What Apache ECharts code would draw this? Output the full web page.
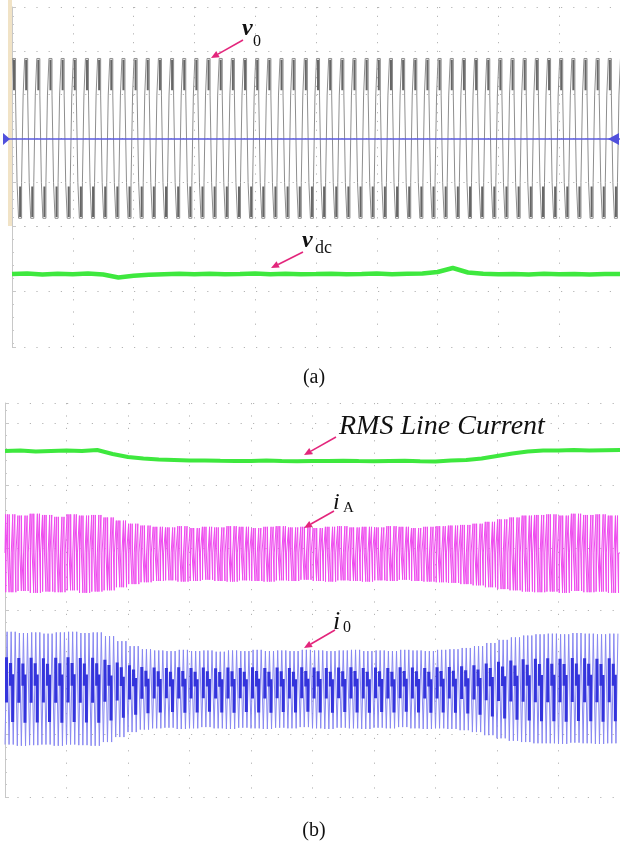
<!DOCTYPE html>
<html>
<head>
<meta charset="utf-8">
<script src="https://cdn.jsdelivr.net/npm/echarts@6/dist/echarts.min.js"></script>
<style>
html, body { margin: 0; padding: 0; background: #fff; }
#chart { width: 620px; height: 848px; }
</style>
</head>
<body>
<div id="chart"></div>
<script>
// all readings in scope divisions: x 0..10, y measured up from the bottom of each screen
var cycles = 50;
var period = 10 / cycles;

// (a) output voltage v0, one period as [duration, level]
var v0Mid = 3.41;
var v0Phase = -0.017;
var v0Steps = [[0.125, 0.72], [0.25, 1.32], [0.125, 0.72],
               [0.125, -0.71], [0.25, -1.30], [0.125, -0.71]];
// the bright tips of each half wave: [fraction, from, to]
var v0Tips = [[0.25, 0.80, 1.30], [0.75, -0.78, -1.28]];

// (a) dc link voltage, one reading every 0.25 div
var vdc = [1.197, 1.205, 1.189, 1.200, 1.193, 1.203, 1.189, 1.139, 1.167, 1.184,
           1.192, 1.200, 1.193, 1.202, 1.192, 1.197, 1.203, 1.192, 1.200, 1.193,
           1.197, 1.202, 1.193, 1.197, 1.203, 1.193, 1.200, 1.205, 1.230, 1.295,
           1.221, 1.200, 1.192, 1.197, 1.190, 1.200, 1.193, 1.197, 1.190, 1.198, 1.195];

// (b) RMS line current, one reading every 0.25 div
var rmsCur = [5.554, 5.562, 5.546, 5.554, 5.562, 5.554, 5.570, 5.506, 5.457, 5.433,
              5.417, 5.409, 5.401, 5.401, 5.396, 5.393, 5.393, 5.401, 5.393, 5.390,
              5.393, 5.393, 5.398, 5.393, 5.390, 5.393, 5.396, 5.390, 5.385, 5.401,
              5.409, 5.433, 5.474, 5.514, 5.546, 5.562, 5.562, 5.570, 5.562, 5.567, 5.570];

// (b) line current iA, peak above / below its zero for each period
var iaMid = 3.917;
var iaTop = [0.62, 0.60, 0.63, 0.61, 0.58, 0.62, 0.60, 0.61,
             0.57, 0.52, 0.47, 0.44,
             0.42, 0.41, 0.43, 0.40, 0.42, 0.41, 0.43, 0.42, 0.40, 0.42, 0.43, 0.41, 0.42,
             0.40, 0.42, 0.43, 0.41, 0.42, 0.41, 0.43, 0.42, 0.40, 0.42, 0.43, 0.44, 0.45, 0.47,
             0.50, 0.54, 0.57, 0.60, 0.61,
             0.62, 0.60, 0.63, 0.61, 0.62, 0.60];
var iaBot = [0.63, 0.61, 0.64, 0.62, 0.63, 0.60, 0.64, 0.62,
             0.60, 0.55, 0.50, 0.47,
             0.45, 0.44, 0.46, 0.45, 0.43, 0.45, 0.46, 0.44, 0.45, 0.46, 0.44, 0.45, 0.43,
             0.45, 0.46, 0.44, 0.45, 0.46, 0.44, 0.45, 0.43, 0.45, 0.46, 0.47, 0.48, 0.50, 0.52,
             0.55, 0.58, 0.60, 0.62, 0.63,
             0.62, 0.64, 0.61, 0.63, 0.62, 0.64];
// switching strokes inside one period: [fraction, level]
var iaPattern = [[0.00, 0], [0.05, 0], [0.05, 1], [0.06, -1], [0.08, 0],
                 [0.20, 0], [0.20, 1], [0.21, 0],
                 [0.33, 0], [0.33, -1], [0.34, 1], [0.36, 0],
                 [0.50, 0], [0.50, -1], [0.51, 0],
                 [0.63, 0], [0.63, 1], [0.64, -1], [0.66, 0],
                 [0.80, 0], [0.80, 1], [0.81, 0],
                 [0.88, 0], [0.88, -1], [0.89, 0], [1.00, 0]];

// (b) output current i0
var i0Mid = 1.742;
var i0Top = [0.91, 0.89, 0.90, 0.88, 0.90, 0.91, 0.89, 0.90,
             0.84, 0.76, 0.68, 0.63,
             0.61, 0.60, 0.62, 0.60, 0.61, 0.59, 0.61, 0.60, 0.62, 0.60, 0.61, 0.60,
             0.62, 0.61, 0.60, 0.61, 0.62, 0.60, 0.61, 0.60, 0.62, 0.61, 0.60, 0.62,
             0.63, 0.65, 0.68, 0.73, 0.78, 0.82, 0.85, 0.87,
             0.88, 0.87, 0.89, 0.88, 0.87, 0.88];
var i0Bot = [0.90, 0.92, 0.91, 0.90, 0.92, 0.90, 0.91, 0.92,
             0.86, 0.78, 0.70, 0.66,
             0.64, 0.63, 0.65, 0.64, 0.62, 0.64, 0.65, 0.63, 0.64, 0.65, 0.63, 0.64,
             0.62, 0.64, 0.65, 0.63, 0.64, 0.65, 0.63, 0.64, 0.62, 0.64, 0.65, 0.64,
             0.65, 0.67, 0.70, 0.75, 0.80, 0.84, 0.86, 0.88,
             0.88, 0.89, 0.87, 0.88, 0.89, 0.88];
var i0Light = [[0.00, -1], [0.17, 1], [0.33, -1], [0.50, 1], [0.67, -1], [0.83, 1]];
var i0Dark = [[0.12, 0.55], [0.12, -0.25], null, [0.45, 0.45], [0.45, 0.05], null,
              [0.62, 0.25], [0.62, -0.6], null];

var pink = '#e3267c';
var serif = '"Liberation Serif", "Times New Roman", serif';

function buildV0() {
    var out = [];
    for (var c = -1; c <= cycles; c++) {
        var t = v0Phase + c * period;
        v0Steps.forEach(function (s) {
            out.push([t, v0Mid + s[1]]);
            t += s[0] * period;
            out.push([t, v0Mid + s[1]]);
        });
    }
    return out;
}

function buildTips() {
    var out = [];
    for (var c = -1; c <= cycles; c++) {
        v0Tips.forEach(function (s) {
            var x = v0Phase + (c + s[0]) * period;
            out.push([x, v0Mid + s[1]], [x, v0Mid + s[2]], [x, '-']);
        });
    }
    return out;
}

function buildSwitching(mid, top, bot, pattern) {
    var out = [];
    for (var c = 0; c < cycles; c++) {
        var x0 = c * period;
        pattern.forEach(function (p) {
            if (p === null) {
                out.push([x0, '-']);
                return;
            }
            var y = p[1] > 0 ? mid + p[1] * top[c] : mid + p[1] * bot[c];
            out.push([x0 + p[0] * period, y]);
        });
    }
    return out;
}

function arrow(x1, y1, x2, y2) {
    var dx = x2 - x1, dy = y2 - y1;
    var len = Math.sqrt(dx * dx + dy * dy);
    var ux = dx / len, uy = dy / len;
    var bx = x2 - ux * 8, by = y2 - uy * 8;
    return [
        { type: 'line', z: 100, shape: { x1: x1, y1: y1, x2: bx, y2: by },
          style: { stroke: pink, lineWidth: 1.6 } },
        { type: 'polygon', z: 100,
          shape: { points: [[x2, y2], [bx - uy * 3.5, by + ux * 3.5], [bx + uy * 3.5, by - ux * 3.5]] },
          style: { fill: pink } }
    ];
}

function label(x, y, text, font, align) {
    return { type: 'text', z: 100, x: x, y: y,
             style: { text: text, font: font, fill: '#111', align: align || 'left', verticalAlign: 'middle' } };
}

function dots(gap, edges) {
    return { show: true, lineStyle: { color: '#b4b4b4', width: 1, type: [1.2, gap] },
             showMinLine: edges !== false, showMaxLine: edges !== false };
}

// screen overlays: only the dotted graticule
function gridX(idx, gap) {
    return { type: 'value', gridIndex: idx, min: 0, max: 10, interval: 1,
             axisLine: { show: false }, axisTick: { show: false }, axisLabel: { show: false },
             splitLine: dots(gap, false) };
}
function gridY(idx, max, gap, inverse) {
    return { type: 'value', gridIndex: idx, min: 0, max: max, interval: 1, inverse: !!inverse,
             axisLine: { show: true, lineStyle: { color: '#c8c8c8' } },
             axisTick: { show: true, inside: true, length: 4, lineStyle: { color: '#c8c8c8' } },
             minorTick: { show: true, splitNumber: 5, length: 2, lineStyle: { color: '#c8c8c8' } },
             axisLabel: { show: false }, splitLine: dots(gap) };
}

var chart = echarts.init(document.getElementById('chart'));

var option = {
    animation: false,
    backgroundColor: '#fff',
    grid: [
        { left: 12, top: 0, width: 610, height: 347 },
        { left: 5, top: 403, width: 620, height: 394 },
        { left: 12, top: 7, width: 610, height: 219 },
        { left: 12, top: 226, width: 610, height: 121 },
        { left: 5, top: 403, width: 620, height: 394 }
    ],
    xAxis: [
        { type: 'value', gridIndex: 0, min: 0, max: 10, show: false },
        { type: 'value', gridIndex: 1, min: 0, max: 10, show: false },
        gridX(2, 7.56),
        gridX(3, 11),
        gridX(4, 11.2)
    ],
    yAxis: [
        { type: 'value', gridIndex: 0, min: 0, max: 347 / 61, show: false },
        { type: 'value', gridIndex: 1, min: 0, max: 394 / 62.3, show: false },
        gridY(2, 5, 11),
        gridY(3, 121 / 65, 11, true),
        gridY(4, 394 / 62.3, 11.2)
    ],
    series: [
        {
            name: 'v0', type: 'line', xAxisIndex: 0, yAxisIndex: 0,
            data: buildV0(), showSymbol: false, silent: true,
            lineStyle: { color: '#8e8e8e', width: 1 },
            markLine: {
                silent: true, symbol: 'none', label: { show: false },
                lineStyle: { color: '#5a5ae0', width: 1.5, type: 'solid' },
                data: [{ yAxis: v0Mid }]
            }
        },
        {
            name: 'v0 tips', type: 'line', xAxisIndex: 0, yAxisIndex: 0,
            data: buildTips(), showSymbol: false, silent: true, connectNulls: false,
            lineStyle: { color: '#666', width: 2 }
        },
        {
            name: 'vdc', type: 'line', xAxisIndex: 0, yAxisIndex: 0,
            data: vdc.map(function (v, i) { return [i * 0.25, v]; }),
            showSymbol: false, silent: true,
            lineStyle: { color: '#3ee83e', width: 4.5 }
        },
        {
            name: 'RMS Line Current', type: 'line', xAxisIndex: 1, yAxisIndex: 1,
            data: rmsCur.map(function (v, i) { return [i * 0.25, v]; }),
            showSymbol: false, silent: true,
            lineStyle: { color: '#3ee83e', width: 4 }
        },
        {
            name: 'iA', type: 'line', xAxisIndex: 1, yAxisIndex: 1,
            data: buildSwitching(iaMid, iaTop, iaBot, iaPattern),
            showSymbol: false, silent: true,
            lineStyle: { color: '#ee4cee', width: 1 }
        },
        {
            name: 'i0', type: 'line', xAxisIndex: 1, yAxisIndex: 1,
            data: buildSwitching(i0Mid, i0Top, i0Bot, i0Light),
            showSymbol: false, silent: true,
            lineStyle: { color: '#8888f2', width: 1 }
        },
        {
            name: 'i0 dense', type: 'line', xAxisIndex: 1, yAxisIndex: 1,
            data: buildSwitching(i0Mid, i0Top, i0Bot, i0Dark),
            showSymbol: false, silent: true, connectNulls: false,
            lineStyle: { color: '#3434dc', width: 3 }
        }
    ],
    graphic: [].concat(
        [
            { type: 'rect', z: 50, shape: { x: 8, y: 0, width: 4, height: 226 }, style: { fill: '#f1e3c6' } },
            { type: 'line', z: 50, shape: { x1: 8, y1: 139, x2: 12, y2: 139 }, style: { stroke: '#5a5ae0', lineWidth: 1.5 } },
            { type: 'polygon', z: 100, shape: { points: [[3, 133], [10, 139], [3, 145]] }, style: { fill: '#5050dc' } },
            { type: 'polygon', z: 100, shape: { points: [[619, 133], [608, 139], [619, 145]] }, style: { fill: '#5050dc' } },
            label(242, 29, 'v', 'italic bold 24px ' + serif),
            label(253, 42, '0', '16px ' + serif),
            label(302, 241, 'v', 'italic bold 24px ' + serif),
            label(315, 248, 'dc', '18px ' + serif),
            label(339, 427, 'RMS Line Current', 'italic 28px ' + serif),
            label(333, 503, 'i', 'italic 24px ' + serif),
            label(343, 508, 'A', '15px ' + serif),
            label(333, 622, 'i', 'italic 26px ' + serif),
            label(343, 628, '0', '16px ' + serif),
            label(314, 378, '(a)', '20px ' + serif, 'center'),
            label(314, 831, '(b)', '20px ' + serif, 'center')
        ],
        arrow(243, 40, 211, 58),
        arrow(303, 252, 271, 268),
        arrow(336, 437, 304, 455),
        arrow(334, 511, 304, 528),
        arrow(335, 630, 304, 648)
    )
};

chart.setOption(option);
</script>
</body>
</html>
